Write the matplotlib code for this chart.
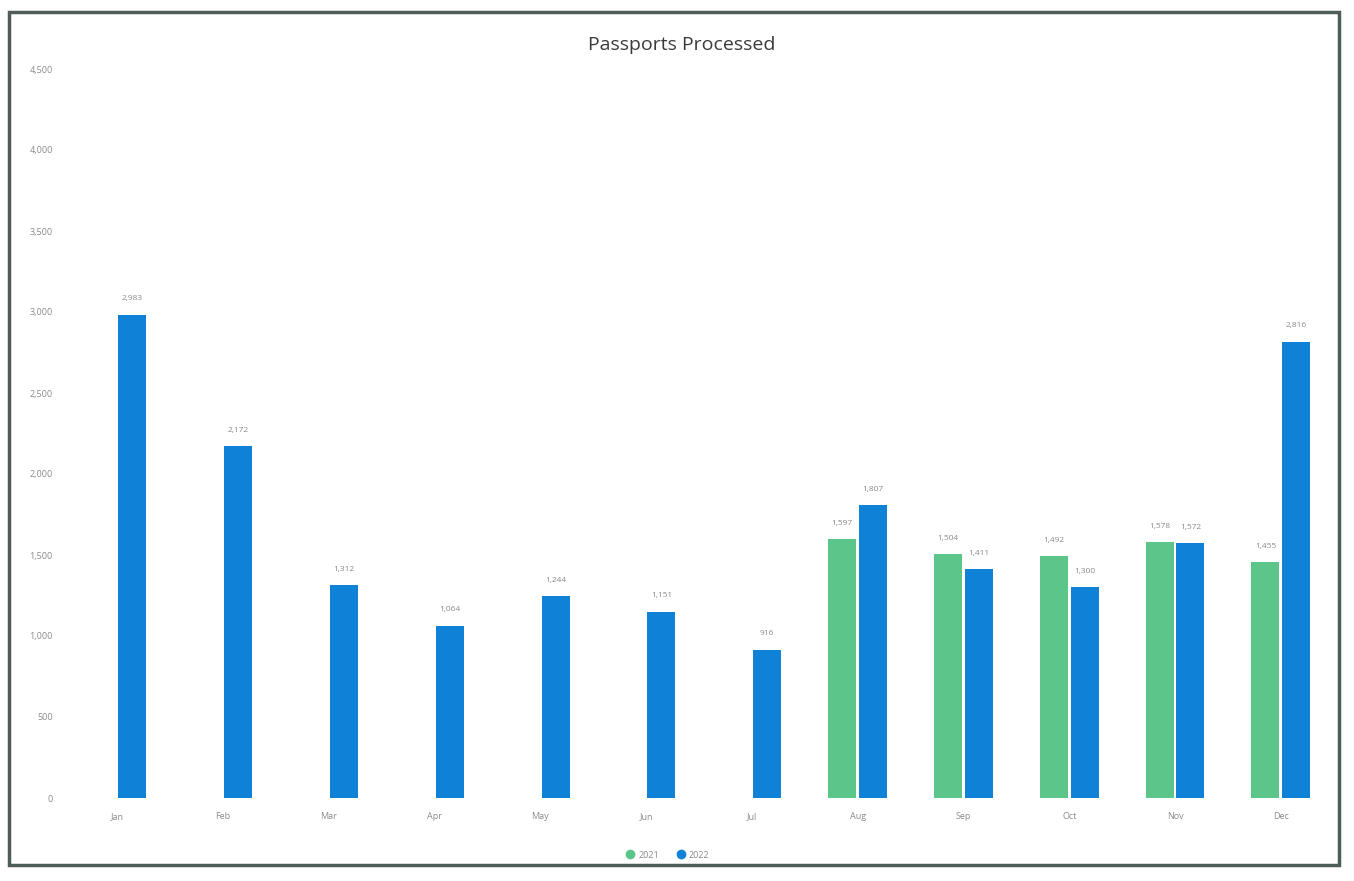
import matplotlib
matplotlib.use("Agg")
import matplotlib.pyplot as plt
from matplotlib.patches import Rectangle
from matplotlib.lines import Line2D
import numpy as np

# Monthly passport counts
months = ["Jan", "Feb", "Mar", "Apr", "May", "Jun",
          "Jul", "Aug", "Sep", "Oct", "Nov", "Dec"]
series_names = ["2021", "2022"]
green_values = [np.nan, np.nan, np.nan, np.nan, np.nan, np.nan,
                np.nan, 1597, 1504, 1492, 1578, 1455]
blue_values = [2983, 2172, 1312, 1064, 1244, 1151,
               916, 1807, 1411, 1300, 1572, 2816]
y_ticks = [0, 500, 1000, 1500, 2000, 2500, 3000, 3500, 4000, 4500]

GREEN = "#5cc68a"
BLUE = "#0f82d8"
TEXT = "#8a8a8a"

plt.rcParams["font.family"] = ["Open Sans", "DejaVu Sans"]

W, H = 1354, 881
fig = plt.figure(figsize=(W / 100, H / 100), dpi=100)
fig.patch.set_facecolor("white")

# outer frame
fig.add_artist(Rectangle((9 / W, 1 - 865 / H), (1339 - 9) / W, (865 - 12) / H,
                         transform=fig.transFigure, fill=False,
                         edgecolor="#4f5d59", linewidth=2.5))

ax_left, ax_right = 69.4, 1328.4
ax_top, ax_bottom = 69, 798
ax = fig.add_axes([ax_left / W, 1 - ax_bottom / H,
                   (ax_right - ax_left) / W, (ax_bottom - ax_top) / H])

x = np.arange(len(months))
width = 0.265
offset = 0.146

gb = ax.bar(x - offset, green_values, width, color=GREEN, label=series_names[0])
bb = ax.bar(x + offset, blue_values, width, color=BLUE, label=series_names[1])

for bars, vals in ((gb, green_values), (bb, blue_values)):
    for rect, v in zip(bars, vals):
        if np.isnan(v):
            continue
        ax.annotate(f"{v:,.0f}", (rect.get_x() + rect.get_width() / 2, v),
                    xytext=(0, 9), textcoords="offset points",
                    ha="center", va="bottom", fontsize=6, color=TEXT)

ax.set_xlim(-0.45, 11.45)
ax.set_ylim(0, 4500)
ax.set_yticks(y_ticks)
ax.set_yticklabels([f"{t:,}" for t in y_ticks], fontsize=6.5, color=TEXT)
ax.set_xticks(x)
ax.set_xticklabels(months, fontsize=6.5, color=TEXT)
ax.tick_params(length=0, pad=10)
ax.tick_params(axis="y", pad=12)
for s in ax.spines.values():
    s.set_visible(False)

fig.text(682 / W, 1 - 45 / H, "Passports Processed", ha="center", va="center",
         fontsize=14, color="#3a3a3a")

handles = [Line2D([], [], marker="o", linestyle="none", markersize=6,
                  markerfacecolor=c, markeredgecolor=c) for c in (GREEN, BLUE)]
leg = fig.legend(handles=handles, labels=series_names, loc="center",
                 bbox_to_anchor=(668 / W, 1 - 855 / H), ncol=2, frameon=False,
                 fontsize=6.5, handlelength=0.8, handletextpad=0.5,
                 columnspacing=2.0)
for t in leg.get_texts():
    t.set_color(TEXT)

fig.savefig("out.png", dpi=100, facecolor="white")
